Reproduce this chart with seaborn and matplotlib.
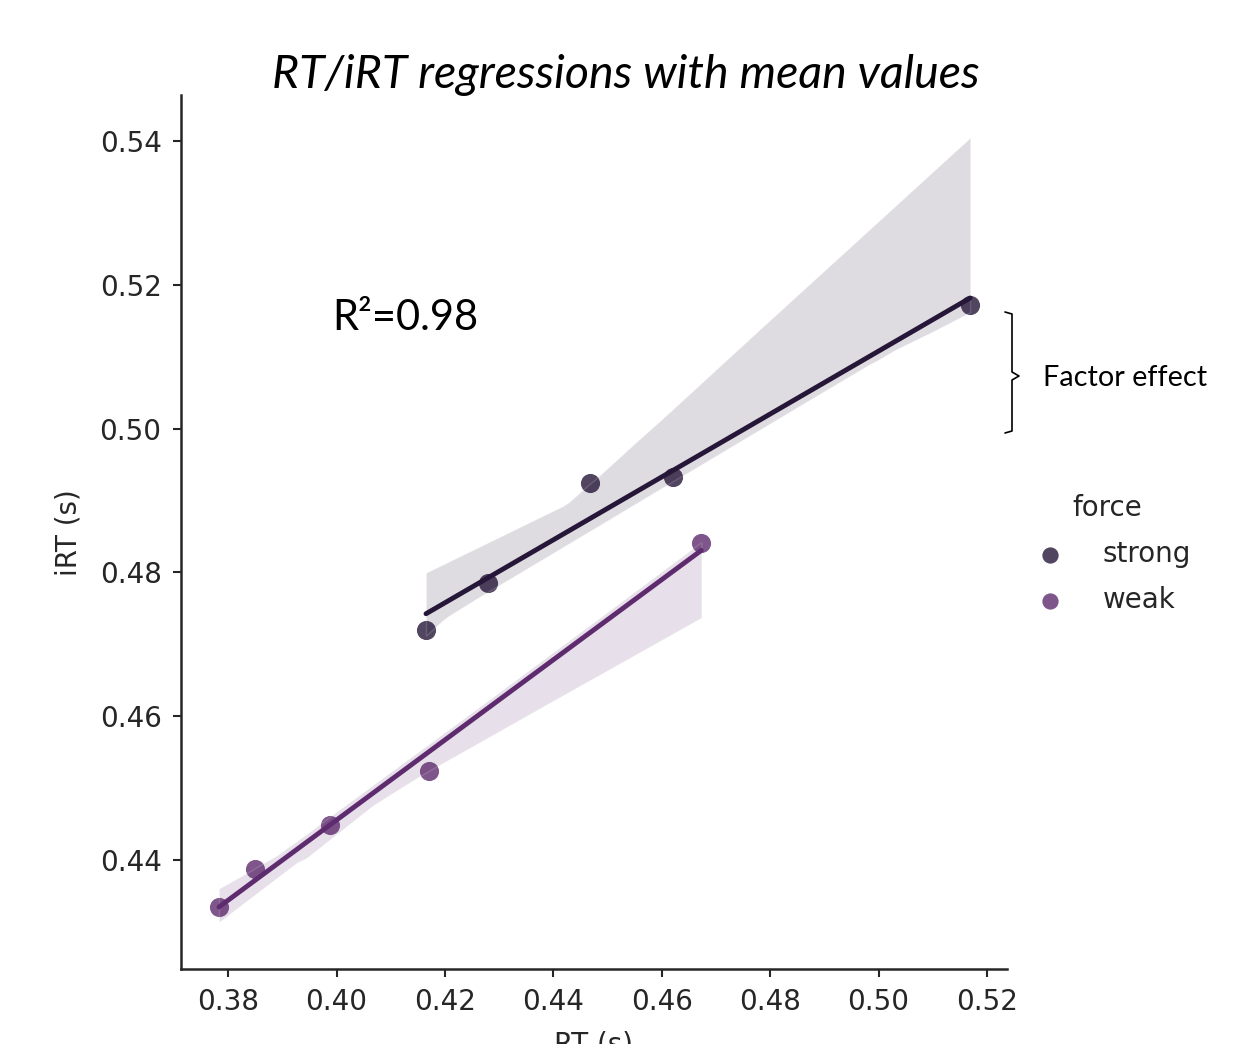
import numpy as np
import pandas as pd
import matplotlib
matplotlib.use("Agg")
import matplotlib.pyplot as plt
import seaborn as sns
from matplotlib.lines import Line2D

# mean RT / iRT per condition
strong_rt = [0.4165, 0.4280, 0.4468, 0.4621, 0.5169]
strong_irt = [0.4720, 0.4785, 0.4924, 0.4933, 0.5172]
weak_rt = [0.3783, 0.3850, 0.3988, 0.4171, 0.4673]
weak_irt = [0.4335, 0.4387, 0.4449, 0.4524, 0.4841]
forces = ["strong", "weak"]

df = pd.DataFrame({
    "RT": strong_rt + weak_rt,
    "iRT": strong_irt + weak_irt,
    "force": ["strong"] * len(strong_rt) + ["weak"] * len(weak_rt),
})

colours = {"strong": "#261638", "weak": "#5e2c6e"}

sns.set_theme(style="ticks")
plt.rcParams["axes.linewidth"] = 1.8
plt.rcParams["xtick.major.width"] = 1.5
plt.rcParams["ytick.major.width"] = 1.5
plt.rcParams["xtick.major.size"] = 6
plt.rcParams["ytick.major.size"] = 6

fig = plt.figure(figsize=(12.59, 10.44), dpi=100)
ax = fig.add_axes([0.1438, 0.0718, 0.656, 0.837])

for f in forces:
    d = df[df["force"] == f]
    sns.regplot(data=d, x="RT", y="iRT", ax=ax, color=colours[f], seed=3,
                scatter_kws=dict(s=190, alpha=0.8, linewidths=0),
                line_kws=dict(lw=3.5), label=f)

ax.set_xlim(0.3713, 0.5237)
ax.set_ylim(0.4248, 0.5464)
ax.set_xticks(np.arange(0.38, 0.5201, 0.02))
ax.set_yticks(np.arange(0.44, 0.5401, 0.02))
ax.tick_params(labelsize=20, pad=8)
ax.set_xlabel("RT (s)", fontsize=20, labelpad=10)
ax.set_ylabel("iRT (s)", fontsize=20, labelpad=12)
sns.despine(ax=ax)

leg = ax.legend(title="force", loc="upper left", bbox_to_anchor=(0.7922, 0.551),
                bbox_transform=fig.transFigure, frameon=False, fontsize=20,
                title_fontsize=20, handletextpad=0.9, labelspacing=0.65,
                markerscale=0.85)

fig.text(0.4968, 0.928, "RT/iRT regressions with mean values", ha="center", va="center",
         fontsize=33.5, style="italic", family="Lato", color="black")
fig.text(0.2637, 0.6954, "R\u00b2=0.98", ha="left", va="center", fontsize=30,
         family="Lato", color="black")
fig.text(0.8284, 0.6379, "Factor effect", ha="left", va="center", fontsize=20.8,
         family="Lato", color="black")

# bracket for the factor effect
W, H = 1259.0, 1044.0
bx = [1005, 1012, 1012, 1019, 1012, 1012, 1005]
by = [312, 314, 372, 376, 380, 431, 433]
fig.add_artist(Line2D([v / W for v in bx], [1 - v / H for v in by],
                      transform=fig.transFigure, color="black", lw=1.2))

fig.savefig("out.png", dpi=100)
